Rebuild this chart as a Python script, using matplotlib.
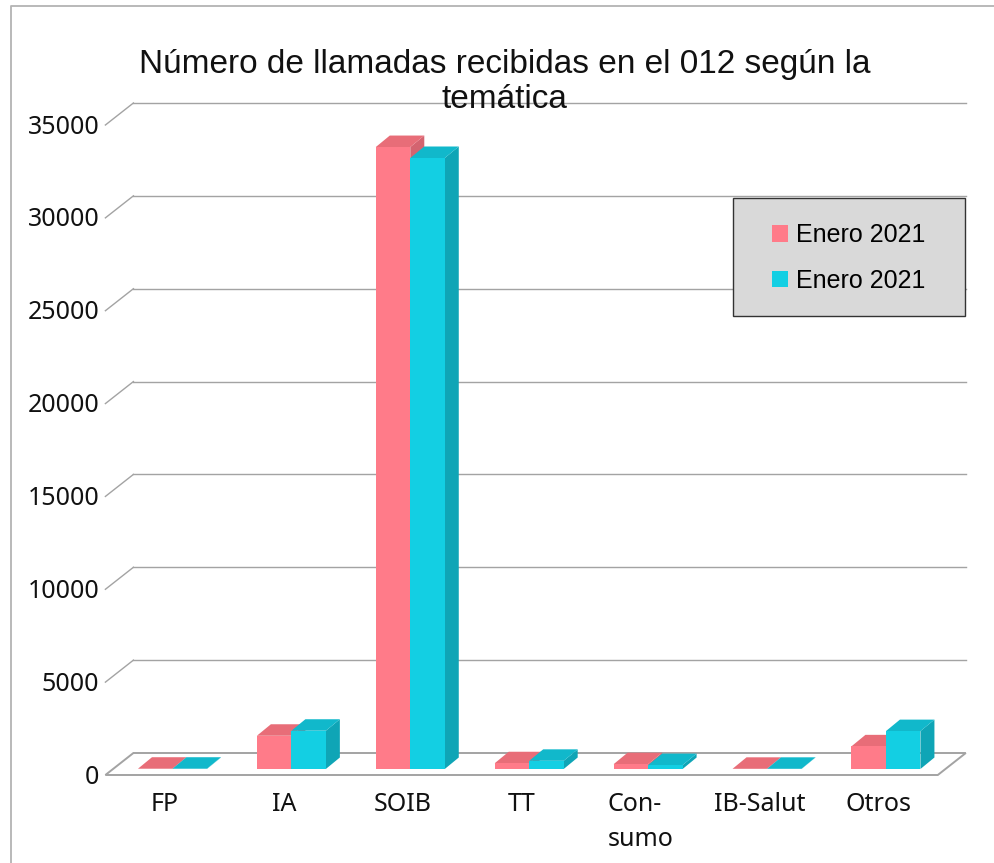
import numpy as np
import matplotlib
matplotlib.use("Agg")
import matplotlib.pyplot as plt
from matplotlib.patches import Polygon, Rectangle
from matplotlib.lines import Line2D

# datos
categorias = ['FP', 'IA', 'SOIB', 'TT', 'Con-\nsumo', 'IB-Salut', 'Otros']
serie_1 = [15, 1790, 33490, 310, 260, 10, 1220]
serie_2 = [15, 2060, 32900, 440, 210, 10, 2040]
nombres = ['Enero 2021', 'Enero 2021']
y_ticks = [0, 5000, 10000, 15000, 20000, 25000, 30000, 35000]
titulo = 'Número de llamadas recibidas en el 012 según la\ntemática'

# colores: frente, tapa, lateral
col_rosa = ['#ff7b89', '#e86d78', '#d46470']
col_azul = ['#13cfe3', '#11b8cb', '#0fa5b6']
gris = '#a3a3a3'

W, H = 994, 863
fig = plt.figure(figsize=(W / 100, H / 100), dpi=100)

# plano frontal de las barras (en pixeles de la imagen)
x_left, x_right = 113, 945.4
y_base, y_top = 769, 119
ax = fig.add_axes([x_left / W, 1 - y_base / H, (x_right - x_left) / W, (y_base - y_top) / H])
ax.set_xlim(-0.5, len(categorias) - 0.5)
ax.set_ylim(0, 35000)
ax.axis('off')

UX = (x_right - x_left) / len(categorias)
UY = (y_base - y_top) / 35000


def mover(x, y, dxp, dyp):
    # desplaza un punto de datos por un offset en pixeles (dyp hacia abajo)
    return x + dxp / UX, y - dyp / UY


FRENTE = (-7.6, 6)
FONDO = (20.4, -16)
PROF = (14, -11.5)
x0, x1 = -0.5, len(categorias) - 0.5

# suelo
suelo = [mover(x0, 0, *FRENTE), mover(x1, 0, *FRENTE), mover(x1, 0, *FONDO), mover(x0, 0, *FONDO)]
ax.add_patch(Polygon(suelo, closed=True, facecolor='white', edgecolor=gris, lw=1.4,
                     clip_on=False, zorder=1))

# lineas de cuadricula en la pared del fondo y diagonales
for v in y_ticks:
    if v > 0:
        a = mover(x0, v, *FONDO)
        b = mover(x1, v, *FONDO)
        ax.plot([a[0], b[0]], [a[1], b[1]], color=gris, lw=1.0, clip_on=False, zorder=0.5)
        c = mover(x0, v, *FRENTE)
        ax.plot([c[0], a[0]], [c[1], a[1]], color=gris, lw=1.0, clip_on=False, zorder=0.5)
    p = mover(x0, v, FRENTE[0] - 6, FRENTE[1] + 2)
    ax.text(p[0], p[1], str(v), ha='right', va='center', fontsize=18,
            family='Noto Sans', color='#111111')

# barras con efecto 3D
x = np.arange(len(categorias))
w = 0.29
barras = []
for k, (vals, cols) in enumerate([(serie_1, col_rosa), (serie_2, col_azul)]):
    izq = x - w + k * w
    for xi, v in zip(izq, vals):
        xa, xb = xi, xi + w
        lado = [(xb, 0), (xb, v), mover(xb, v, *PROF), mover(xb, 0, *PROF)]
        tapa = [(xa, v), (xb, v), mover(xb, v, *PROF), mover(xa, v, *PROF)]
        ax.add_patch(Polygon(lado, closed=True, facecolor=cols[2], edgecolor='none',
                             zorder=2 + k, clip_on=False))
        ax.add_patch(Polygon(tapa, closed=True, facecolor=cols[1], edgecolor='none',
                             zorder=2 + k, clip_on=False))
    b = ax.bar(izq, vals, width=w, align='edge', color=cols[0], edgecolor='none',
               zorder=2.5 + k, label=nombres[k], clip_on=False)
    barras.append(b)

# etiquetas de categorias
for xi, cat in zip(x, categorias):
    p = mover(xi, 0, FRENTE[0], FRENTE[1] + 17)
    ax.text(p[0], p[1], cat, ha='center', va='top', fontsize=18, family='Noto Sans',
            color='#111111', multialignment='left', linespacing=1.5)

# titulo
fig.text(504.5 / W, 1 - 82 / H, titulo, ha='center', va='center', fontsize=24,
         family='Liberation Sans', color='#111111', linespacing=1.15)

# leyenda
ax.add_patch(Rectangle((733 / W, 1 - 316 / H), 232 / W, 118 / H, transform=fig.transFigure,
                       facecolor='#d9d9d9', edgecolor='#333333', lw=1.0, clip_on=False, zorder=10))
leg = ax.legend(handles=barras, labels=nombres, loc='center',
                bbox_to_anchor=(849 / W, 1 - 258 / H), bbox_transform=fig.transFigure,
                frameon=False, prop={'family': 'Liberation Sans', 'size': 18},
                handlelength=0.64, handleheight=0.64, handletextpad=0.32, labelspacing=0.85)
leg.set_zorder(11)

# marco de la figura
fig.add_artist(Line2D([11 / W, 11 / W, 1], [0, 1 - 6 / H, 1 - 6 / H], transform=fig.transFigure,
                      color='#b3b3b3', lw=1.3))

fig.savefig('out.png', dpi=100, facecolor='white')
